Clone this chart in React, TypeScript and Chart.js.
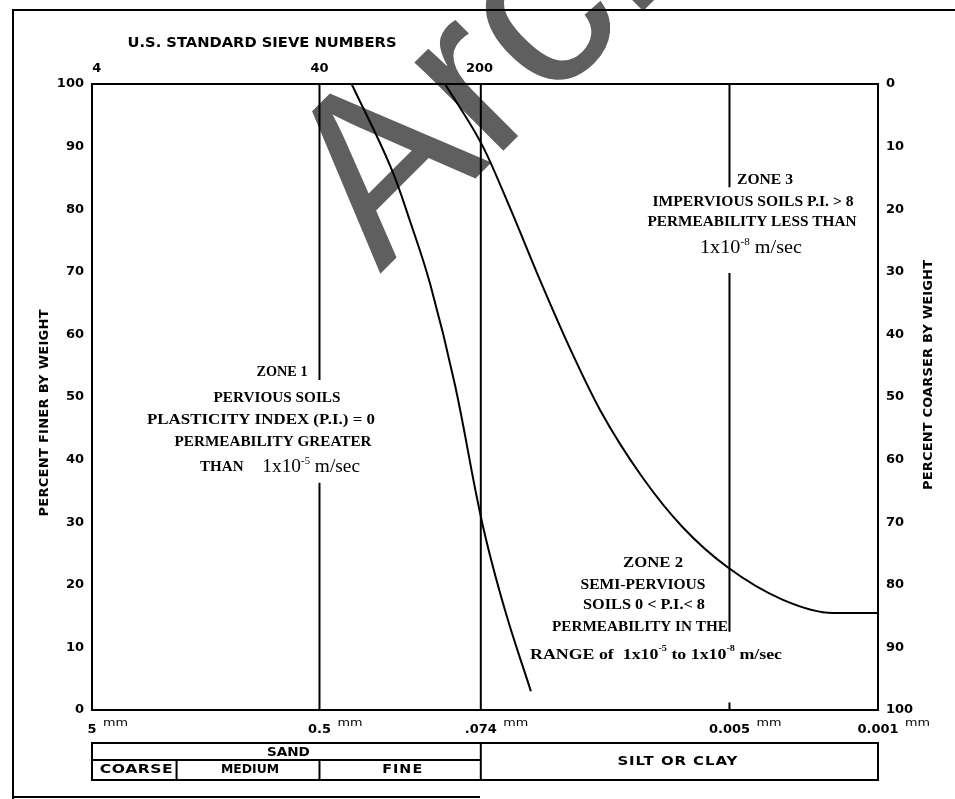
import React, { useEffect, useRef } from "react";
import { Chart, registerables } from "chart.js";

Chart.register(...registerables);

const W = 955;
const H = 799;

// Grain size axis (mm), fine to the right
const sizeTicks = [5, 0.425, 0.074, 0.005, 0.001];
const sizeTickLabels = ["5", "0.5", ".074", "0.005", "0.001"];
// U.S. standard sieve openings (mm) and their numbers
const sieveSizes = [4.75, 0.425, 0.075];
const sieveLabels = ["4", "40", "200"];
// Soil grade boundaries (mm): coarse | medium | fine sand | silt or clay
const gradeBounds = [5, 2.0, 0.425, 0.074, 0.001];

// Left boundary gradation curve
const curveASize = [0.3, 0.198, 0.159, 0.128, 0.098, 0.073, 0.057, 0.043];
const curveAPct = [100, 87, 78, 68, 52, 30, 16, 3];

// Right boundary gradation curve
const curveBSize = [0.109, 0.0723, 0.0539, 0.039, 0.0282, 0.0203, 0.0128, 0.0083, 0.0051, 0.0028, 0.00163, 0.001];
const curveBPct = [100, 90, 80.2, 68.7, 57.8, 47.9, 37.1, 29.2, 22.8, 17.6, 15.5, 15.5];

// Zone divider lines: [size, pct] runs, separated by breaks where zone labels sit
const divider40 = [[0.425, 100], [0.425, 52.7], null, [0.425, 36.3], [0.425, 0]];
const divider200 = [[0.074, 100], [0.074, 0]];
const divider005 = [[0.005, 100], [0.005, 83.5], null, [0.005, 69.8], [0.005, 12.5], null, [0.005, 1.2], [0.005, 0]];

const SANS = "'DejaVu Sans', sans-serif";
const SERIF = "'Liberation Serif', 'Times New Roman', serif";

const toPoints = (xs: number[], ys: number[]) => xs.map((x, i) => ({ x, y: ys[i] }));
const toRuns = (runs: (number[] | null)[]) =>
  runs.map((p, i) => (p ? { x: p[0], y: p[1] } : { x: (runs[i - 1] as number[])[0], y: null }));

type Seg = { t: string; font: string; dy?: number };

function drawRich(ctx: CanvasRenderingContext2D, segs: Seg[], cx: number, cy: number, width?: number) {
  ctx.save();
  let total = 0;
  const ws = segs.map((s) => {
    ctx.font = s.font;
    const w = ctx.measureText(s.t).width;
    total += w;
    return w;
  });
  const sx = width ? width / total : 1;
  ctx.translate(cx - (total * sx) / 2, cy);
  ctx.scale(sx, 1);
  ctx.textAlign = "left";
  ctx.textBaseline = "middle";
  ctx.fillStyle = "#000";
  let x = 0;
  segs.forEach((s, i) => {
    ctx.font = s.font;
    ctx.fillText(s.t, x, s.dy || 0);
    x += ws[i];
  });
  ctx.restore();
}

// Lettering-guide style text: glyphs widened by `stretch`, gaps spread to fill `width`
function drawSpaced(
  ctx: CanvasRenderingContext2D,
  text: string,
  cx: number,
  cy: number,
  width: number,
  font: string,
  rot = 0,
  stretch = 1
) {
  ctx.save();
  ctx.font = font;
  (ctx as any).letterSpacing = "0px";
  const m = ctx.measureText(text).width;
  let sx = stretch;
  if (m * sx > width) sx = width / m;
  const inner = width / sx;
  const ls = text.length > 1 ? (inner - m) / (text.length - 1) : 0;
  ctx.translate(cx, cy);
  if (rot) ctx.rotate(rot);
  ctx.scale(sx, 1);
  ctx.textAlign = "left";
  ctx.textBaseline = "middle";
  ctx.fillStyle = "#000";
  (ctx as any).letterSpacing = Math.max(0, ls) + "px";
  ctx.fillText(text, -inner / 2, 0);
  ctx.restore();
}

const bold = (px: number) => `bold ${px}px ${SERIF}`;
const reg = (px: number) => `${px}px ${SERIF}`;

const watermark = {
  id: "watermark",
  beforeDraw(chart: Chart) {
    const ctx = chart.ctx;
    ctx.save();
    ctx.translate(380, 274);
    ctx.rotate((-45 * Math.PI) / 180);
    ctx.font = "237px 'Liberation Sans', Arial, sans-serif";
    ctx.fillStyle = "#5f5f5f";
    ctx.textBaseline = "alphabetic";
    ctx.fillText("Arch", 0, 0);
    ctx.restore();
  },
};

const annotations = {
  id: "annotations",
  afterDraw(chart: Chart) {
    const ctx = chart.ctx;
    const xs = chart.scales.x;
    const area = chart.chartArea;

    // outer frame
    ctx.save();
    ctx.strokeStyle = "#000";
    ctx.lineWidth = 2;
    ctx.beginPath();
    ctx.moveTo(W, 10);
    ctx.lineTo(13, 10);
    ctx.lineTo(13, H);
    ctx.moveTo(13, 797);
    ctx.lineTo(480, 797);
    ctx.stroke();
    ctx.restore();

    // headings and axis titles
    drawSpaced(ctx, "U.S. STANDARD SIEVE NUMBERS", 262, 43, 269, `bold 14px ${SANS}`, 0, 1.08);
    drawSpaced(ctx, "PERCENT FINER BY WEIGHT", 45, 413, 207, `bold 12px ${SANS}`, -Math.PI / 2, 1.08);
    drawSpaced(ctx, "PERCENT COARSER BY WEIGHT", 929, 375, 230, `bold 12px ${SANS}`, -Math.PI / 2, 1.08);

    // "mm" unit marks beside the size labels
    sizeTicks.forEach((v, i) => {
      const px = xs.getPixelForValue(v);
      ctx.font = `bold 13px ${SANS}`;
      const half = ctx.measureText(sizeTickLabels[i]).width / 2;
      drawRich(ctx, [{ t: "mm", font: `11px ${SANS}` }], px + half + 7 + 12, 723, 25);
    });

    // soil classification table
    const gx = gradeBounds.map((v) => xs.getPixelForValue(v));
    const tTop = 743, tMid = 760, tBot = 780;
    ctx.save();
    ctx.strokeStyle = "#000";
    ctx.lineWidth = 2;
    ctx.strokeRect(area.left, tTop, area.right - area.left, tBot - tTop);
    ctx.beginPath();
    ctx.moveTo(gx[0], tMid);
    ctx.lineTo(gx[3], tMid);
    ctx.moveTo(gx[1], tMid);
    ctx.lineTo(gx[1], tBot);
    ctx.moveTo(gx[2], tMid);
    ctx.lineTo(gx[2], tBot);
    ctx.moveTo(gx[3], tTop);
    ctx.lineTo(gx[3], tBot);
    ctx.stroke();
    ctx.restore();
    const tf = `bold 13px ${SANS}`;
    drawSpaced(ctx, "SAND", (gx[0] + gx[3]) / 2 + 2, 753, 43, tf, 0, 1.1);
    drawSpaced(ctx, "COARSE", (gx[0] + gx[1]) / 2 + 2, 770, 73, tf, 0, 1.2);
    drawSpaced(ctx, "MEDIUM", (gx[1] + gx[2]) / 2 + 2, 770, 58, tf, 0, 1.1);
    drawSpaced(ctx, "FINE", (gx[2] + gx[3]) / 2 + 2, 770, 40, tf, 0, 1.1);
    drawSpaced(ctx, "SILT OR CLAY", (gx[3] + gx[4]) / 2 - 2, 762, 120, tf, 0, 1.15);

    // zone 1
    drawRich(ctx, [{ t: "ZONE 1", font: bold(14) }], 282, 372, 51);
    drawRich(ctx, [{ t: "PERVIOUS SOILS", font: bold(14) }], 277, 398, 127);
    drawRich(ctx, [{ t: "PLASTICITY INDEX (P.I.) = 0", font: bold(14) }], 261, 420, 228);
    drawRich(ctx, [{ t: "PERMEABILITY GREATER", font: bold(14) }], 273, 442, 197);
    drawRich(
      ctx,
      [
        { t: "THAN     ", font: bold(14) },
        { t: "1x10", font: reg(18) },
        { t: "-5", font: reg(10), dy: -6 },
        { t: " m/sec", font: reg(18) },
      ],
      280,
      467,
      160
    );

    // zone 2
    drawRich(ctx, [{ t: "ZONE 2", font: bold(14) }], 653, 563, 60);
    drawRich(ctx, [{ t: "SEMI-PERVIOUS", font: bold(14) }], 643, 585, 125);
    drawRich(ctx, [{ t: "SOILS 0 < P.I.< 8", font: bold(14) }], 644, 605, 122);
    drawRich(ctx, [{ t: "PERMEABILITY IN THE", font: bold(14) }], 640, 627, 176);
    drawRich(
      ctx,
      [
        { t: "RANGE of  1x10", font: bold(14) },
        { t: "-5", font: bold(8), dy: -6 },
        { t: " to 1x10", font: bold(14) },
        { t: "-8", font: bold(8), dy: -6 },
        { t: " m/sec", font: bold(14) },
      ],
      656,
      655,
      252
    );

    // zone 3
    drawRich(ctx, [{ t: "ZONE 3", font: bold(14) }], 765, 180, 56);
    drawRich(ctx, [{ t: "IMPERVIOUS SOILS P.I. > 8", font: bold(14) }], 753, 202, 201);
    drawRich(ctx, [{ t: "PERMEABILITY LESS THAN", font: bold(14) }], 752, 222, 209);
    drawRich(
      ctx,
      [
        { t: "1x10", font: reg(18) },
        { t: "-8", font: reg(10), dy: -6 },
        { t: " m/sec", font: reg(18) },
      ],
      751,
      248,
      102
    );
  },
};

const tickFont = { family: SANS, size: 13, weight: "bold" as const };

export default function App() {
  const ref = useRef<HTMLCanvasElement | null>(null);

  useEffect(() => {
    document.body.style.margin = "0";
    const canvas = ref.current;
    if (!canvas) return;

    const line = (data: any[], width = 2, tension = 0) => ({
      data,
      borderColor: "#000",
      borderWidth: width,
      pointRadius: 0,
      fill: false,
      tension,
      spanGaps: false,
    });

    const chart = new Chart(canvas, {
      type: "line",
      data: {
        datasets: [
          line(toPoints(curveASize, curveAPct), 2, 0.4),
          { ...line(toPoints(curveBSize, curveBPct), 2, 0.4), cubicInterpolationMode: "monotone" },
          line(toRuns(divider40)),
          line(toRuns(divider200)),
          line(toRuns(divider005)),
        ] as any,
      },
      options: {
        responsive: false,
        animation: false,
        events: [],
        layout: { padding: 0 },
        plugins: { legend: { display: false }, tooltip: { enabled: false } },
        scales: {
          x: {
            type: "logarithmic",
            position: "bottom",
            reverse: true,
            min: 0.001,
            max: 5,
            afterFit: (s: any) => {
              s.height = H - 710;
            },
            afterBuildTicks: (s: any) => {
              s.ticks = sizeTicks.map((v) => ({ value: v }));
            },
            ticks: {
              callback: (_v: any, i: number) => sizeTickLabels[i],
              font: { family: SANS, size: 13, weight: "bold" },
              color: "#000",
              padding: 12,
              autoSkip: false,
              maxRotation: 0,
            },
            grid: { display: false, drawTicks: false },
            border: { display: true, color: "#000", width: 2 },
          },
          x2: {
            type: "logarithmic",
            position: "top",
            reverse: true,
            min: 0.001,
            max: 5,
            afterFit: (s: any) => {
              s.height = 84;
            },
            afterBuildTicks: (s: any) => {
              s.ticks = sieveSizes.map((v) => ({ value: v }));
            },
            ticks: {
              callback: (_v: any, i: number) => sieveLabels[i],
              font: { family: SANS, size: 13, weight: "bold" },
              color: "#000",
              padding: 8,
              autoSkip: false,
              maxRotation: 0,
            },
            grid: { display: false, drawTicks: false },
            border: { display: true, color: "#000", width: 2 },
          },
          y: {
            type: "linear",
            position: "left",
            min: 0,
            max: 100,
            afterFit: (s: any) => {
              s.width = 92;
            },
            ticks: { stepSize: 10, font: tickFont, color: "#000", padding: 8 },
            grid: { display: false, drawTicks: false },
            border: { display: true, color: "#000", width: 2 },
          },
          y2: {
            type: "linear",
            position: "right",
            min: 0,
            max: 100,
            reverse: true,
            afterFit: (s: any) => {
              s.width = W - 878;
            },
            ticks: { stepSize: 10, font: tickFont, color: "#000", padding: 8 },
            grid: { display: false, drawTicks: false },
            border: { display: true, color: "#000", width: 2 },
          },
        },
      } as any,
      plugins: [watermark, annotations],
    });

    return () => chart.destroy();
  }, []);

  return (
    <div style={{ position: "relative", width: W, height: H, background: "#fff" }}>
      <canvas ref={ref} width={W} height={H} style={{ display: "block", width: W, height: H }} />
    </div>
  );
}
